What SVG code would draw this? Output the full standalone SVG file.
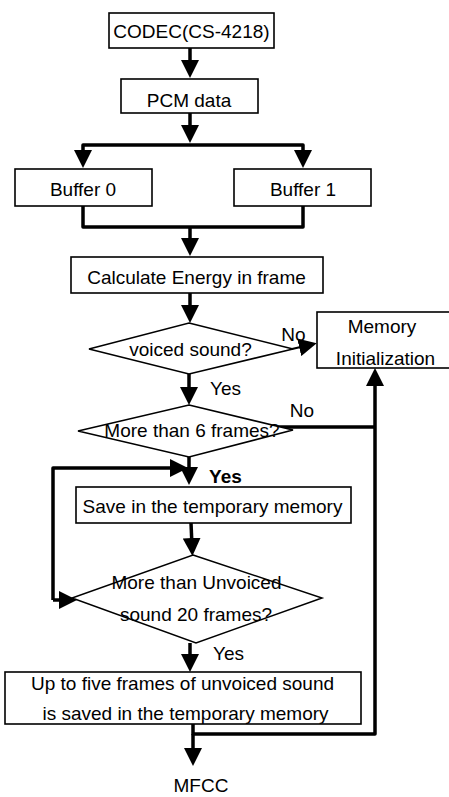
<svg xmlns="http://www.w3.org/2000/svg" width="449" height="797" viewBox="0 0 449 797">
  <style>
    .box { fill: #fff; stroke: #000; stroke-width: 1.6; }
    .dia { fill: #fff; stroke: #000; stroke-width: 1.5; }
    .wire { fill: none; stroke: #000; stroke-width: 3.5; stroke-linejoin: round; }
    .thin { fill: none; stroke: #000; stroke-width: 2.2; }
    text { font-family: "Liberation Sans", Arial, sans-serif; font-size: 19px; fill: #000; text-anchor: middle; }
    .bold { font-weight: bold; }
  </style>
  <defs>
    <marker id="arrow" viewBox="0 0 18 18" markerWidth="18" markerHeight="18" markerUnits="userSpaceOnUse" refX="8" refY="9" orient="auto">
      <path d="M0,0 L18,9 L0,18 z" fill="#000"/>
    </marker>
  </defs>

  <!-- connectors -->
  <g id="connectors">
    <line class="wire" x1="190" y1="48" x2="190" y2="68" marker-end="url(#arrow)"/>
    <line class="wire" x1="190" y1="113" x2="190" y2="133" marker-end="url(#arrow)"/>
    <path class="wire" d="M83,158 V145 H303 V158"/>
    <line class="wire" x1="83" y1="150" x2="83" y2="158" marker-end="url(#arrow)"/>
    <line class="wire" x1="303" y1="150" x2="303" y2="158" marker-end="url(#arrow)"/>
    <path class="wire" d="M83,206 V227 H303 V206"/>
    <line class="wire" x1="190" y1="227" x2="190" y2="246" marker-end="url(#arrow)"/>
    <line class="wire" x1="190" y1="293" x2="190" y2="313" marker-end="url(#arrow)"/>
    <line class="thin" x1="292" y1="349" x2="307" y2="345.5" marker-end="url(#arrow)"/>
    <line class="wire" x1="189" y1="374" x2="189" y2="395" marker-end="url(#arrow)"/>
    <path class="wire" d="M278,427 H375"/>
    <path class="wire" d="M193,724 V734 H375 V378" marker-end="url(#arrow)"/>
    <line class="wire" x1="189" y1="457" x2="189" y2="475" marker-end="url(#arrow)"/>
    <path class="wire" d="M53,600 V468 H178" marker-end="url(#arrow)"/>
    <path class="wire" d="M53,600 H67" marker-end="url(#arrow)"/>
    <line class="wire" x1="191" y1="523" x2="192" y2="546" marker-end="url(#arrow)"/>
    <line class="wire" x1="190" y1="643" x2="190" y2="662" marker-end="url(#arrow)"/>
    <line class="wire" x1="193" y1="734" x2="193" y2="756" marker-end="url(#arrow)"/>
  </g>

  <g id="codec">
    <rect class="box" x="109" y="13" width="165" height="35"/>
    <text x="191.5" y="38">CODEC(CS-4218)</text>
  </g>
  <g id="pcm">
    <rect class="box" x="121" y="79" width="137" height="34"/>
    <text x="189" y="107">PCM data</text>
  </g>
  <g id="buffer0">
    <rect class="box" x="15" y="169" width="137" height="37"/>
    <text x="83" y="196">Buffer 0</text>
  </g>
  <g id="buffer1">
    <rect class="box" x="234" y="169" width="137" height="37"/>
    <text x="303" y="196">Buffer 1</text>
  </g>
  <g id="energy">
    <rect class="box" x="71" y="257" width="252" height="36"/>
    <text x="196.5" y="284">Calculate Energy in frame</text>
  </g>
  <g id="voiced">
    <polygon class="dia" points="189,323 293,349 189,374 89,349"/>
    <text x="190.5" y="356">voiced sound?</text>
    <text x="293.5" y="341">No</text>
    <text x="225.5" y="395">Yes</text>
  </g>
  <g id="memory-init">
    <rect class="box" x="317" y="312" width="140" height="56"/>
    <text x="382" y="333">Memory</text>
    <text x="385.5" y="365">Initialization</text>
  </g>
  <g id="six-frames">
    <polygon class="dia" points="189,405 293,430 189,457 78,431"/>
    <text x="192" y="437">More than 6 frames?</text>
    <text x="302" y="417">No</text>
    <text x="225.5" y="483" class="bold">Yes</text>
  </g>
  <g id="save">
    <rect class="box" x="76" y="487" width="275" height="36"/>
    <text x="212.5" y="513">Save in the temporary memory</text>
  </g>
  <g id="twenty-frames">
    <polygon class="dia" points="193,555 322,598 196,643 72,598"/>
    <text x="196.5" y="589">More than Unvoiced</text>
    <text x="196" y="621">sound 20 frames?</text>
    <text x="228.5" y="660">Yes</text>
  </g>
  <g id="save-five">
    <rect class="box" x="5" y="672" width="356" height="52"/>
    <text x="182.5" y="690">Up to five frames of unvoiced sound</text>
    <text x="185.5" y="720">is saved in the temporary memory</text>
  </g>
  <g id="mfcc">
    <text x="201" y="792">MFCC</text>
  </g>
</svg>
